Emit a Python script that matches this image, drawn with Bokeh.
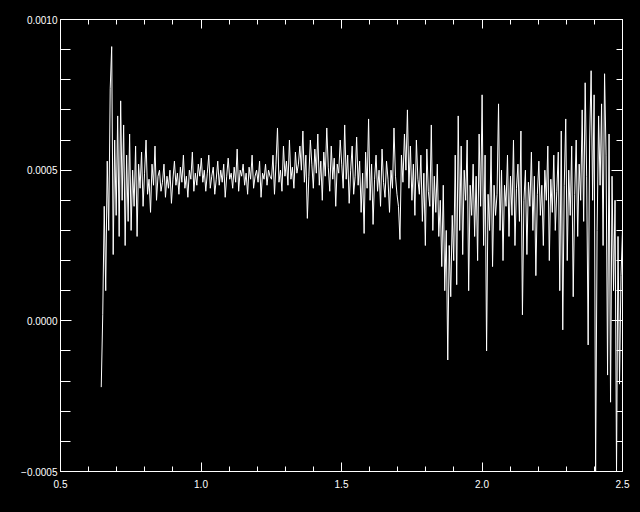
import numpy as np
from bokeh.plotting import figure
from bokeh.models import Range1d, LinearAxis, SingleIntervalTicker, CustomJSTickFormatter, GlobalInlineStyleSheet
from bokeh.embed import file_html
from bokeh.resources import INLINE

# values in units of 1e-5
seg_a = [-22, 2, 38, 10, 53, 30, 77, 91, 22, 60, 35, 68, 28, 73, 40, 65, 25, 55, 33, 62,
         30, 50, 38, 58, 28, 52]
seg_b = [44, 56, 38, 49, 60, 42, 47, 36, 52, 45, 58, 40, 48,
         50, 43, 46, 52, 41, 48, 44, 50, 39, 47, 53, 45, 49, 42, 51, 46, 55, 44, 48, 41,
         50, 47, 56, 43, 49, 45, 52, 48,
         54, 46, 50, 43, 49, 55, 44, 48, 51, 42, 47, 53, 45, 50, 46, 52, 41, 48, 54, 47,
         49, 44, 51, 46, 57, 43, 50, 48, 52, 45, 49, 42, 51, 47, 55, 44, 48, 50, 46, 53,
         41, 49, 47, 52, 45, 50, 48]
seg_c = [47, 55, 42, 52, 64, 46, 50, 43, 58, 48, 53, 45, 60, 47, 51, 44, 56, 49, 52]
seg_d = [58, 50, 63, 46, 55, 34, 48, 60, 52, 44, 57, 49, 62, 45, 53, 40, 56, 48, 64, 51,
         43, 58, 47, 54, 38, 52, 49, 60]
seg_e = [52, 44, 65, 47, 55, 39, 50, 58, 42, 48, 61, 45, 53, 36, 49, 29, 56, 44, 67, 40,
         52, 32, 47, 55, 43, 50, 38, 57, 46, 41, 53, 47, 36, 50, 44, 64, 48, 42]
seg_f = [38, 27, 55, 46, 62, 50, 70, 44, 58, 40, 52, 35, 60, 47, 42, 55, 33, 49, 25, 57,
         43, 38, 65, 30, 48, 36, 52, 28]
seg_g = [40, 18, 45, 10, 30, -13, 25, 8, 35, 20]
seg_h = [55, 12, 68, 30, 58, 22, 50, 40, 60, 10, 45, 35, 52, 28, 48, 20, 62, 38, 75, 25,
         55, -10, 42, 30, 58, 18, 45, 35]
seg_i = [42, 72, 30, 50, 20, 45, 38, 55, 28, 48, 35, 60, 25, 44, 52, 33, 63, 2, 40, 50,
         22, 46, 38, 56, 30, 48, 15, 42, 53, 35, 45, 25, 50, 40, 58, 20, 47, 36, 55, 30,
         43, 56, 10]
seg_j = [63, -3, 45, 67, 20, 50, 35, 58, 8, 42, 60, 28, 52, 40, 70, 33, 79, 48, -8]
seg_k = [60, 83, 40, 75, -50, 30, 68, 45, 72, 25, 82, 55, -18, 62, -27, 48, 10, 40, -50, 28,
         -21, 15, 30]

values = seg_a + seg_b + seg_c + seg_d + seg_e + seg_f + seg_g + seg_h + seg_i + seg_j + seg_k
y = np.array(values, dtype=float) * 1e-5
x_start, x_end = 0.645, 2.50
x = np.linspace(x_start, x_end, len(y))

W, H = 632, 504
p = figure(width=W, height=H, output_backend="svg", toolbar_location=None,
           x_range=Range1d(0.5, 2.5), y_range=Range1d(-0.0005, 0.0010),
           x_axis_location=None, y_axis_location=None,
           min_border_left=60, min_border_right=W - 622, min_border_top=19, min_border_bottom=H - 471)
p.background_fill_color = "black"
p.border_fill_color = "black"
p.outline_line_color = "white"
p.grid.visible = False
p.stylesheets = [GlobalInlineStyleSheet(css="html, body { background-color: #000; }")]

xfmt = CustomJSTickFormatter(code="return tick.toFixed(1);")
yfmt = CustomJSTickFormatter(code="const s = Math.abs(tick).toFixed(4); return (tick < -1e-12 ? '\\u2212' : '') + s;")
blank = CustomJSTickFormatter(code="return '';")

def style(ax, major, minor):
    ax.axis_line_color = "white"
    ax.major_tick_line_color = "white"
    ax.minor_tick_line_color = "white"
    ax.major_tick_in = major
    ax.major_tick_out = 0
    ax.minor_tick_in = minor
    ax.minor_tick_out = 0
    ax.major_label_text_color = "white"
    ax.major_label_text_font = "Liberation Sans"
    ax.major_label_text_font_size = "10px"

bottom = LinearAxis(ticker=SingleIntervalTicker(interval=0.5, num_minor_ticks=5), formatter=xfmt)
style(bottom, 9, 5)
bottom.major_label_standoff = 8
top = LinearAxis(ticker=SingleIntervalTicker(interval=0.5, num_minor_ticks=5), formatter=blank)
style(top, 9, 5)
top.major_label_text_font_size = "0px"
top.major_label_standoff = 0
left = LinearAxis(ticker=SingleIntervalTicker(interval=0.0005, num_minor_ticks=5), formatter=yfmt)
style(left, 11, 10)
left.major_label_standoff = 3
right = LinearAxis(ticker=SingleIntervalTicker(interval=0.0005, num_minor_ticks=5), formatter=blank)
style(right, 11, 6)
right.major_label_text_font_size = "0px"
right.major_label_standoff = 0

p.add_layout(bottom, "below")
p.add_layout(top, "above")
p.add_layout(left, "left")
p.add_layout(right, "right")

p.line(x, y, line_color="white", line_width=1)

open("out.html", "w").write(file_html(p, INLINE))
